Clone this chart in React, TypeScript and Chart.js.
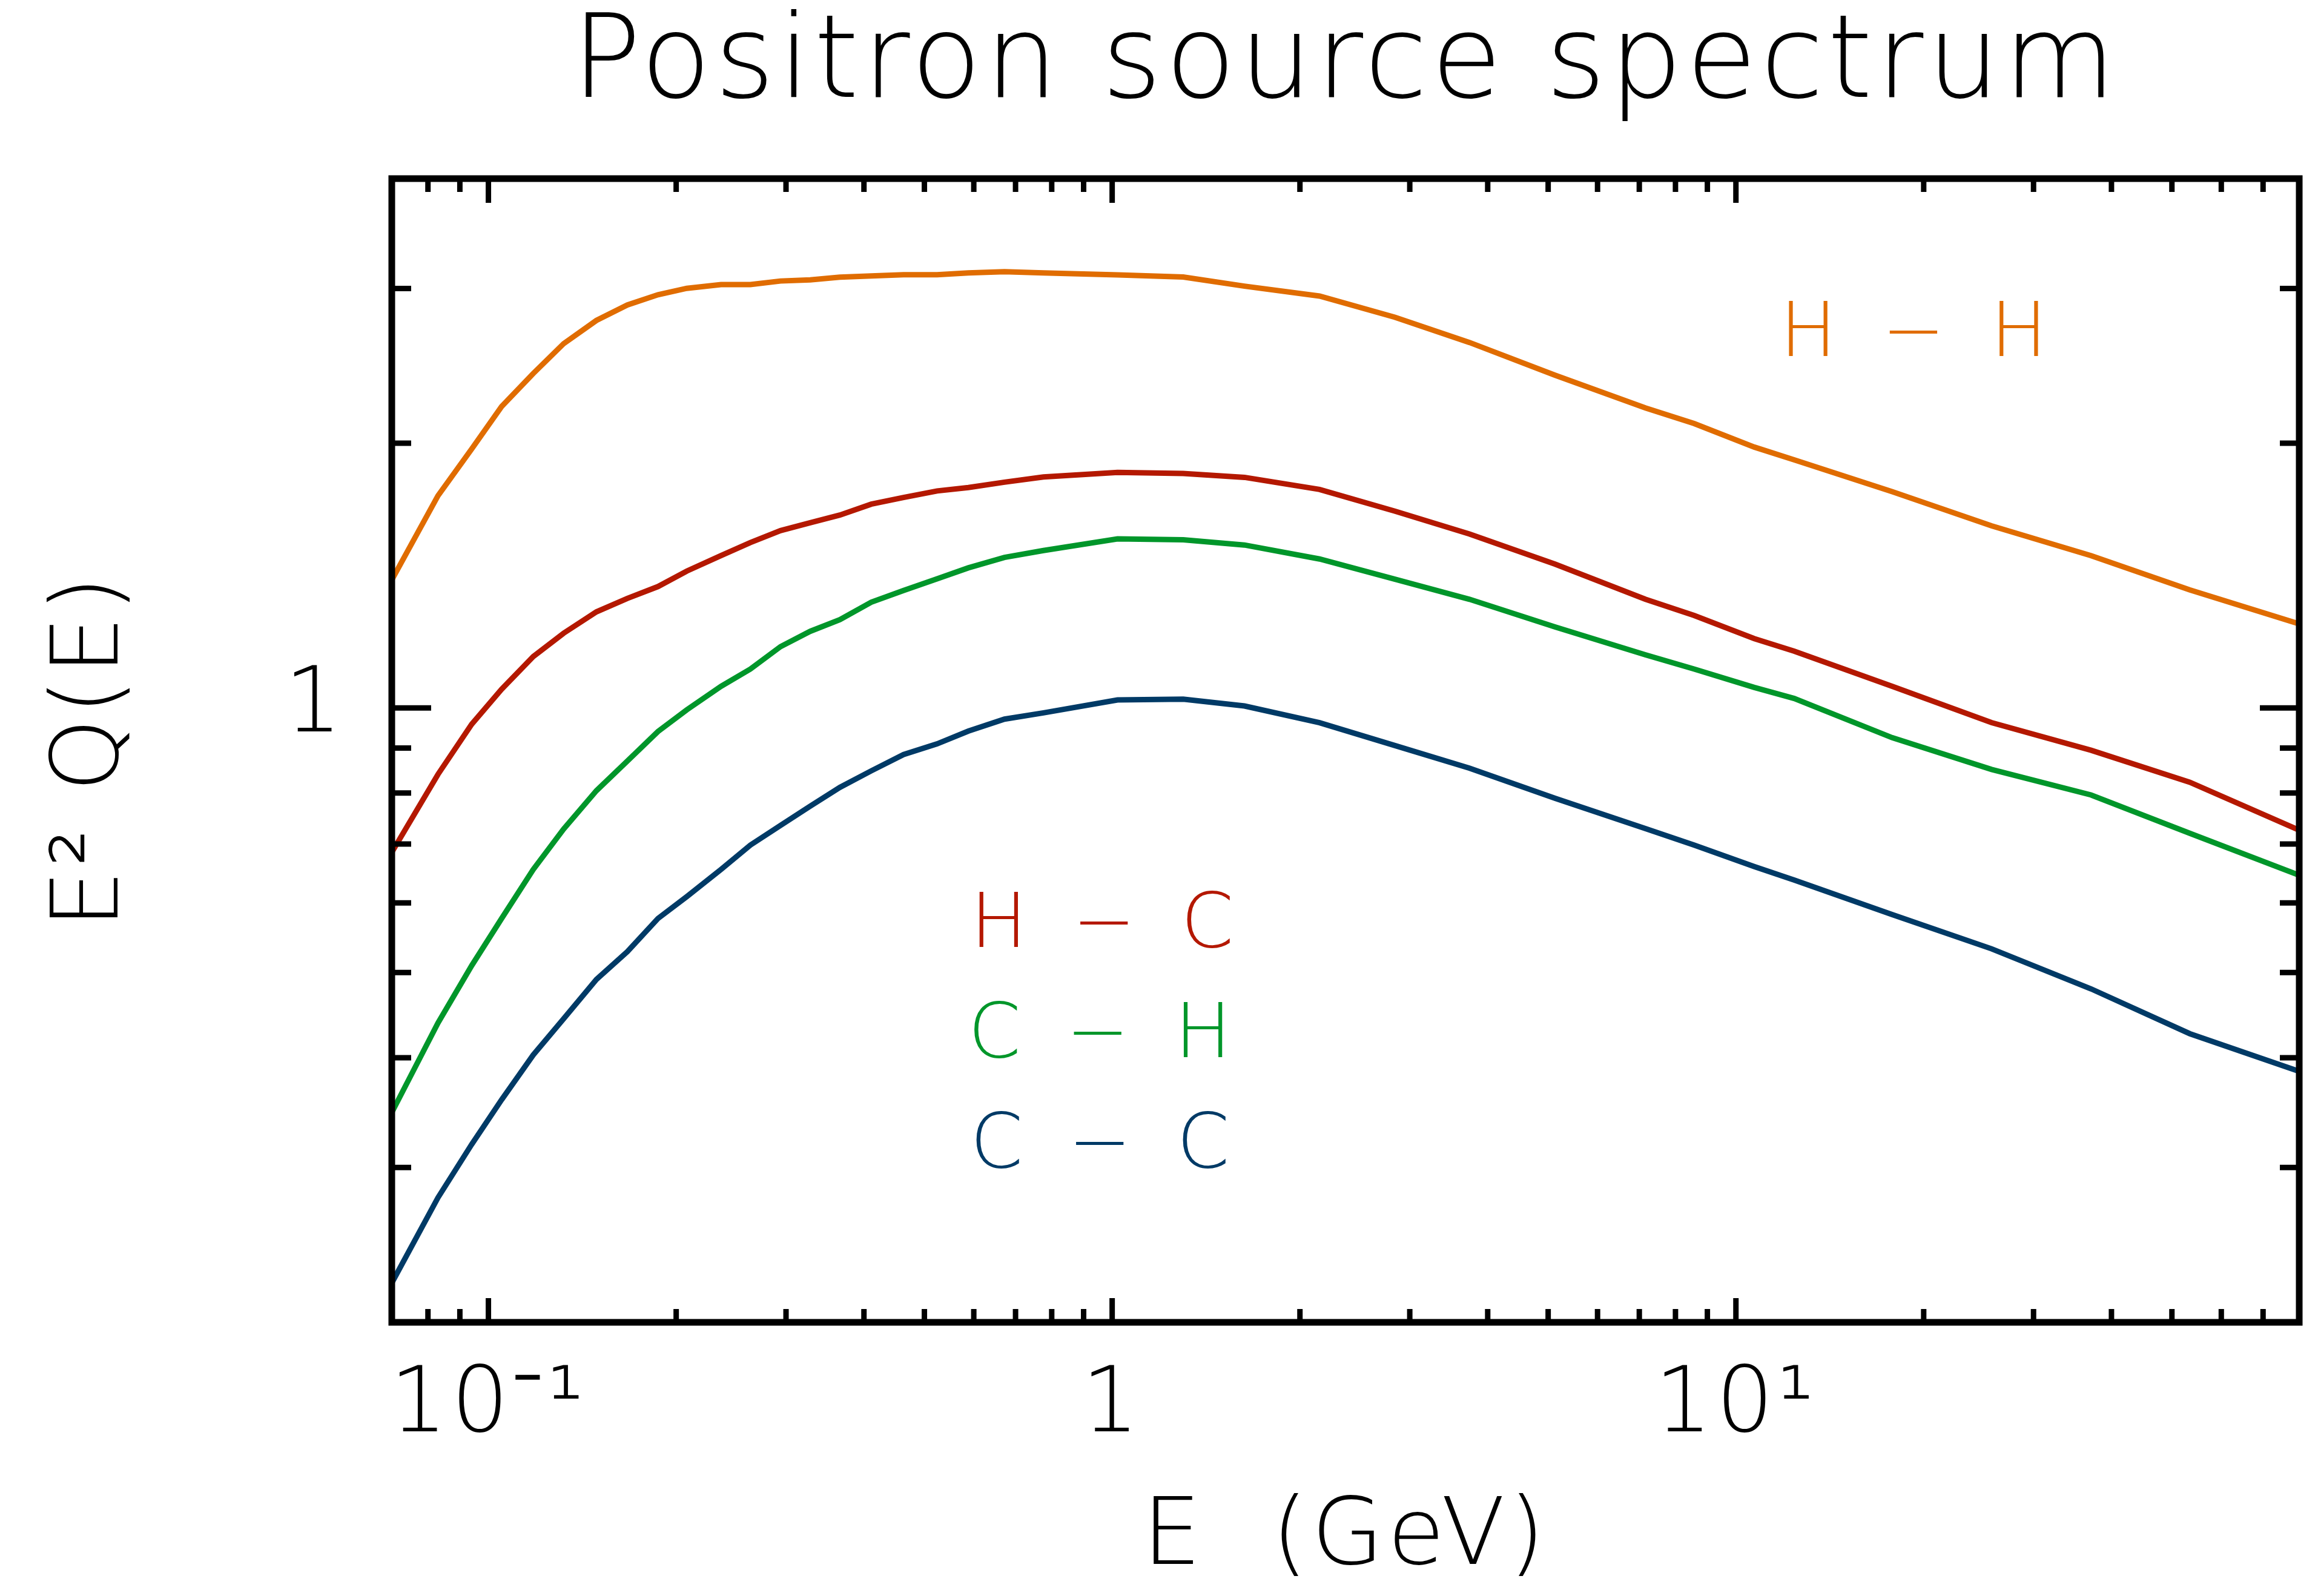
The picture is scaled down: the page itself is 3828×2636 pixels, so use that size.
import { useEffect, useRef } from "react"
import { Chart, registerables } from "chart.js"

Chart.register(...registerables)

// energy grid (GeV) and E^2 Q(E) for each collision type
const energies = [
  0.07, 0.083, 0.094, 0.105, 0.118, 0.132, 0.149, 0.167, 0.187, 0.208, 0.236, 0.263, 0.294, 0.328, 0.366, 0.411,
  0.463, 0.524, 0.588, 0.672, 0.776, 1.02, 1.3, 1.63, 2.15, 2.84, 3.74, 5.13, 7.16, 8.57, 10.7, 12.4, 17.8, 25.7,
  37.1, 53.4, 80,
]
const hh = [
  1.398, 1.743, 1.97, 2.202, 2.401, 2.596, 2.759, 2.873, 2.951, 3.001, 3.031, 3.031, 3.059, 3.068, 3.09, 3.1,
  3.11, 3.11, 3.125, 3.135, 3.125, 3.108, 3.091, 3.018, 2.941, 2.782, 2.604, 2.39, 2.194, 2.106, 1.98, 1.915,
  1.762, 1.611, 1.49, 1.362, 1.246,
]
const hc = [
  0.685, 0.84, 0.958, 1.05, 1.144, 1.216, 1.286, 1.332, 1.374, 1.431, 1.49, 1.542, 1.591, 1.624, 1.657, 1.705,
  1.735, 1.765, 1.781, 1.806, 1.831, 1.853, 1.848, 1.829, 1.772, 1.674, 1.577, 1.457, 1.329, 1.274, 1.199, 1.16,
  1.058, 0.962, 0.895, 0.823, 0.726,
]
const ch = [
  0.3465, 0.438, 0.509, 0.576, 0.655, 0.728, 0.805, 0.87, 0.94, 0.995, 1.058, 1.107, 1.174, 1.222, 1.26, 1.319,
  1.36, 1.402, 1.443, 1.483, 1.51, 1.557, 1.553, 1.532, 1.477, 1.401, 1.329, 1.236, 1.149, 1.107, 1.055, 1.025,
  0.925, 0.851, 0.796, 0.72, 0.645,
]
const cc = [
  0.2217, 0.2772, 0.3187, 0.3583, 0.4029, 0.443, 0.491, 0.528, 0.576, 0.61, 0.655, 0.698, 0.735, 0.773, 0.812, 0.848,
  0.885, 0.91, 0.941, 0.971, 0.987, 1.021, 1.023, 1.005, 0.962, 0.906, 0.854, 0.789, 0.729, 0.698, 0.66, 0.637,
  0.582, 0.532, 0.479, 0.426, 0.386,
]

const seriesNames = ["H\u2002−\u2002H", "H\u2002−\u2002C", "C\u2002−\u2002H", "C\u2002−\u2002C"]
const seriesColors = ["#E06C00", "#B41800", "#00962A", "#003A66"]

const xTicks = [
  0.07, 0.08, 0.09, 0.1, 0.2, 0.3, 0.4, 0.5, 0.6, 0.7, 0.8, 0.9, 1, 2, 3, 4, 5, 6, 7, 8, 9, 10, 20, 30, 40, 50, 60,
  70, 80,
]
const xLabelValues = [0.1, 1, 10]
const xLabelTexts = ["10⁻¹", "1", "10¹"]
const yTicks = [0.2, 0.3, 0.4, 0.5, 0.6, 0.7, 0.8, 0.9, 1, 2, 3, 4]
const yLabelValues = [1]
const yLabelTexts = ["1"]

// where the series names sit, in data units (E, E^2 Q)
const noteAnchors = [
  [19.4, 2.7],
  [0.97, 0.574],
  [0.962, 0.43],
  [0.962, 0.3226],
]

const FONT = '"DejaVu Sans", sans-serif'

const framePlugin = {
  id: "frame",
  beforeDraw(chart: any) {
    // the stroke font of the original is spaced out a little
    ;(chart.ctx as any).letterSpacing = "6px"
  },
  afterDraw(chart: any) {
    const { ctx, chartArea, scales } = chart
    const { left, right, top, bottom } = chartArea
    const x = scales.x
    const y = scales.y
    ctx.save()
    ctx.strokeStyle = "#000"
    ctx.lineWidth = 11
    ctx.strokeRect(left, top, right - left, bottom - top)

    ctx.lineWidth = 9
    ctx.beginPath()
    xTicks.forEach((v) => {
      const px = x.getPixelForValue(v)
      const len = xLabelValues.includes(v) ? 40 : 22
      ctx.moveTo(px, bottom)
      ctx.lineTo(px, bottom - len)
      ctx.moveTo(px, top)
      ctx.lineTo(px, top + len)
    })
    yTicks.forEach((v) => {
      const py = y.getPixelForValue(v)
      const len = yLabelValues.includes(v) ? 65 : 32
      ctx.moveTo(left, py)
      ctx.lineTo(left + len, py)
      ctx.moveTo(right, py)
      ctx.lineTo(right - len, py)
    })
    ctx.stroke()

    ctx.font = `200 125px ${FONT}`
    ctx.textAlign = "center"
    ctx.textBaseline = "alphabetic"
    seriesNames.forEach((name, i) => {
      const [ex, ey] = noteAnchors[i]
      ctx.fillStyle = seriesColors[i]
      ctx.fillText(name, x.getPixelForValue(ex), y.getPixelForValue(ey) + 45)
    })
    ctx.restore()
  },
}

function SpectrumChart() {
  const canvasRef = useRef<HTMLCanvasElement>(null)
  const chartRef = useRef<Chart | null>(null)

  useEffect(() => {
    if (!canvasRef.current) return
    if (chartRef.current) chartRef.current.destroy()
    const ctx = canvasRef.current.getContext("2d")
    if (!ctx) return

    const all = [hh, hc, ch, cc]

    chartRef.current = new Chart(ctx, {
      type: "line",
      data: {
        datasets: all.map((vals, i) => ({
          label: seriesNames[i],
          data: energies.map((e, j) => ({ x: e, y: vals[j] })),
          borderColor: seriesColors[i],
          backgroundColor: seriesColors[i],
          borderWidth: 9,
          pointRadius: 0,
          tension: 0,
          fill: false,
        })),
      },
      options: {
        responsive: true,
        maintainAspectRatio: false,
        animation: false,
        layout: { padding: { left: 0, right: 31, top: 0, bottom: 0 } },
        plugins: {
          legend: { display: false },
          tooltip: { enabled: false },
          title: {
            display: true,
            fullSize: false,
            text: "Positron source spectrum",
            color: "#000",
            font: { family: FONT, size: 190, weight: "200", lineHeight: 1 },
            padding: { top: 16, bottom: 89 },
          },
        },
        scales: {
          x: {
            type: "logarithmic",
            min: 0.07,
            max: 80,
            afterBuildTicks: (scale: any) => {
              scale.ticks = xTicks.map((v) => ({ value: v }))
            },
            afterFit: (scale: any) => {
              scale.height = 452
            },
            grid: { display: false, drawTicks: false },
            border: { display: false },
            ticks: {
              autoSkip: false,
              maxRotation: 0,
              minRotation: 0,
              padding: 0,
              color: "#000",
              font: { family: FONT, size: 150, weight: "200", lineHeight: 1.88 },
              callback: (value: any) => {
                const k = xLabelValues.indexOf(Number(value))
                return k >= 0 ? xLabelTexts[k] : ""
              },
            },
            title: {
              display: true,
              text: "E  (GeV)",
              color: "#000",
              font: { family: FONT, size: 154, weight: "200", lineHeight: 1 },
              padding: { top: 0, bottom: 16 },
            },
          },
          y: {
            type: "logarithmic",
            min: 0.2,
            max: 4,
            afterBuildTicks: (scale: any) => {
              scale.ticks = yTicks.map((v) => ({ value: v }))
            },
            afterFit: (scale: any) => {
              scale.width = 647
            },
            grid: { display: false, drawTicks: false },
            border: { display: false },
            ticks: {
              autoSkip: false,
              padding: 76,
              color: "#000",
              font: { family: FONT, size: 150, weight: "200", lineHeight: 1 },
              callback: (value: any) => {
                const k = yLabelValues.indexOf(Number(value))
                return k >= 0 ? yLabelTexts[k] : ""
              },
            },
            title: {
              display: true,
              text: "E² Q(E)",
              color: "#000",
              font: { family: FONT, size: 154, weight: "200", lineHeight: 1 },
              padding: { top: 77, bottom: 0 },
            },
          },
        },
      },
      plugins: [framePlugin],
    })

    return () => {
      if (chartRef.current) {
        chartRef.current.destroy()
        chartRef.current = null
      }
    }
  }, [])

  return <canvas ref={canvasRef} />
}

export default function App() {
  return (
    <div style={{ position: "fixed", left: 0, top: 0, width: "3828px", height: "2636px", background: "#fff" }}>
      <SpectrumChart />
    </div>
  )
}
